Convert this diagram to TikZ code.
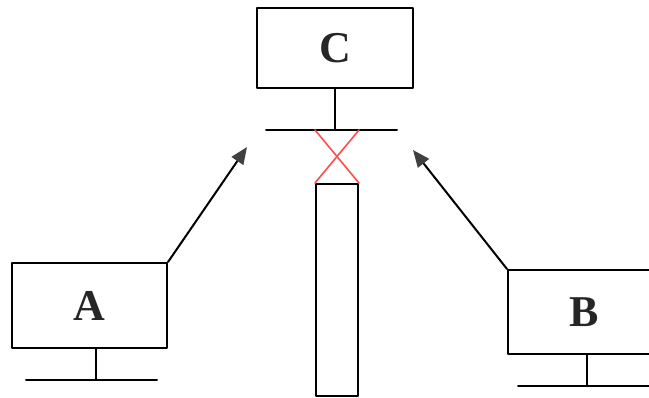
\documentclass[tikz,border=0pt]{standalone}
\usepackage{fontspec}
\setmainfont{Liberation Serif}
\usetikzlibrary{calc, positioning}
\usetikzlibrary{arrows.meta}

\begin{document}
\begin{tikzpicture}[x=1pt, y=-1pt, line join=round, line cap=round]
\tikzset{
  station/.style={draw, line width=2pt, inner sep=0pt, font=\fontsize{44}{44}\selectfont\bfseries, text=black!85},
  wire/.style={line width=2pt, black},
  link/.style={line width=2pt, black, -{Triangle[length=17pt, width=14pt, color=black!75]}},
  crossing/.style={line width=1.6pt, red!70!white},
}
\useasboundingbox (0,0) rectangle (649,397);

% Stations
\node[station, minimum width=156pt, minimum height=80pt] (C) at (335,48) {C};
\node[station, minimum width=155pt, minimum height=85pt] (A) at (89.5,305.5) {A};
\node[station, minimum width=152pt, minimum height=84pt] (B) at (584,312) {B};

% Bus bars under each station
\coordinate (Cbarl) at (266,130);
\coordinate (Cbarr) at (397,130);
\coordinate (Cstem) at (335,130);
\draw[wire] (C.south) -- (Cstem);
\draw[wire] (Cbarl) -- (Cbarr);

\coordinate (Abarl) at (26,380);
\coordinate (Abarr) at (157,380);
\coordinate (Astem) at (96,380);
\draw[wire] (A.south -| Astem) -- (Astem);
\draw[wire] (Abarl) -- (Abarr);

\coordinate (Bbarl) at (518,386);
\coordinate (Bbarr) at (660,386);
\coordinate (Bstem) at (587,386);
\draw[wire] (B.south -| Bstem) -- (Bstem);
\draw[wire] (Bbarl) -- (Bbarr);

% Tall column below the bar
\node[draw, line width=2pt, minimum width=42pt, minimum height=212pt, inner sep=0pt] (col) at (337,290) {};

% Crossed red lines
\draw[crossing] (col.north west |- Cbarl) -- (col.north east);
\draw[crossing] (col.north east |- Cbarl) -- (col.north west);

% Arrows towards the bar
\coordinate (Atip) at (247,147);
\coordinate (Btip) at (413,150);
\draw[link] (A.north east) -- (Atip);
\draw[link] (B.north west) -- (Btip);
\end{tikzpicture}
\end{document}
